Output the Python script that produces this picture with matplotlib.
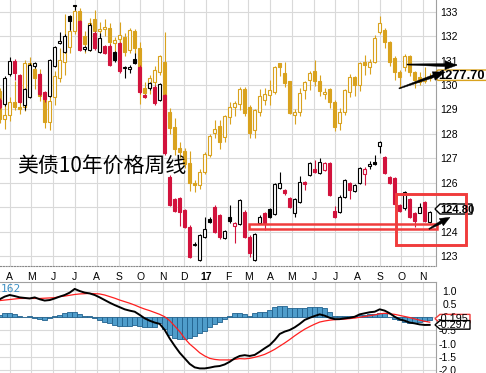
import datetime as dt
import numpy as np
import matplotlib
matplotlib.use('Agg')
import matplotlib.pyplot as plt
import matplotlib.dates as mdates
from matplotlib.patches import Rectangle, Polygon

plt.rcParams['font.family'] = ['Liberation Sans', 'DejaVu Sans']

# ---------------- data ----------------
week_start = dt.date(2016, 3, 18)
n_weeks = 87
dates = [week_start + dt.timedelta(days=7 * i) for i in range(n_weeks)]

# US 10y T-note futures, weekly OHLC
tn_open = [129.39, 129.22, 130.44, 130.98, 130.41, 129.17, 129.52, 130.78, 130.45, 129.70,
           129.56, 130.79, 131.71, 131.36, 132.82, 133.23, 132.63, 131.46, 131.43, 132.14,
           131.36, 131.60, 131.60, 131.36, 131.71, 130.71, 130.65, 131.06, 130.75, 129.59,
           129.86, 129.92, 129.39, 129.59, 126.25, 125.33, 125.37, 124.88, 124.20, 123.45,
           122.84, 123.79, 124.53, 125.02, 124.66, 123.72, 124.58, 124.22, 124.29, 124.81,
           123.79, 122.84, 124.36, 124.77, 124.91, 124.72, 125.80, 125.70, 125.36, 124.77,
           125.22, 126.04, 126.32, 126.55, 126.39, 126.52, 126.79, 124.85, 124.81, 125.43,
           125.99, 125.65, 125.98, 126.34, 126.70, 126.84, 127.51, 127.06, 126.22, 126.18,
           125.09, 124.95, 125.33, 124.75, 124.78, 125.22, 124.40]
tn_high = [129.45, 130.37, 131.13, 131.05, 130.45, 129.86, 130.90, 130.95, 130.50, 129.75,
           131.06, 131.60, 132.16, 132.08, 132.88, 133.29, 132.68, 131.60, 132.52, 132.20,
           132.12, 131.65, 131.68, 131.40, 131.76, 130.76, 130.82, 131.32, 130.80, 129.63,
           130.12, 129.98, 130.10, 129.65, 126.30, 125.38, 125.42, 124.94, 124.25, 123.56,
           123.90, 124.60, 124.58, 125.08, 124.71, 124.06, 125.09, 124.40, 125.34, 124.88,
           123.85, 123.93, 124.66, 124.82, 124.96, 126.00, 126.45, 125.73, 125.40, 125.36,
           126.29, 126.08, 126.85, 126.93, 127.00, 126.83, 126.84, 125.05, 125.48, 126.15,
           126.03, 125.95, 126.64, 126.64, 126.90, 127.13, 127.70, 127.10, 126.26, 126.22,
           125.13, 125.66, 125.38, 124.79, 125.16, 125.26, 124.85]
tn_low = [129.00, 129.15, 130.38, 130.20, 129.25, 128.98, 129.45, 130.70, 129.56, 129.30,
          129.50, 130.72, 131.66, 131.30, 132.25, 133.07, 131.38, 131.40, 131.38, 131.45,
          131.30, 131.25, 130.77, 130.96, 130.50, 130.30, 130.48, 130.87, 129.65, 129.45,
          129.80, 129.20, 129.33, 127.15, 125.03, 124.80, 124.23, 124.14, 122.92, 123.40,
          122.80, 123.74, 124.35, 123.95, 123.70, 123.68, 124.36, 123.52, 124.25, 123.74,
          122.94, 122.80, 124.31, 124.06, 124.54, 124.67, 125.74, 125.50, 124.97, 124.61,
          125.18, 125.70, 126.28, 126.40, 126.34, 126.47, 125.44, 124.57, 124.77, 125.39,
          125.33, 125.60, 125.94, 125.91, 126.55, 126.73, 127.20, 126.36, 125.96, 125.07,
          124.81, 124.90, 124.57, 124.20, 124.74, 124.41, 124.36]
tn_close = [129.10, 130.27, 130.98, 130.50, 129.32, 129.82, 130.82, 130.89, 129.62, 129.43,
            131.01, 131.54, 131.79, 132.01, 132.63, 133.25, 131.43, 131.54, 132.46, 131.50,
            131.91, 131.30, 130.82, 131.02, 130.57, 130.73, 130.75, 130.91, 129.71, 129.52,
            130.07, 129.26, 130.04, 127.22, 125.09, 124.85, 124.80, 124.19, 122.97, 123.50,
            123.84, 124.09, 124.40, 124.00, 123.76, 124.01, 124.42, 124.36, 125.28, 123.79,
            123.11, 123.88, 124.61, 124.36, 124.58, 125.95, 125.98, 125.57, 125.02, 125.32,
            126.04, 125.95, 126.79, 126.45, 126.86, 126.79, 125.49, 124.61, 125.43, 126.11,
            125.70, 125.91, 126.59, 126.55, 126.75, 126.77, 127.65, 126.40, 126.00, 125.11,
            124.85, 125.61, 124.61, 124.45, 125.02, 124.45, 124.80]

# Gold overlay (USD), weekly OHLC
gold_open = [1258, 1221, 1226, 1244, 1237, 1237, 1296, 1288, 1274, 1250,
             1216, 1250, 1276, 1298, 1318, 1340, 1366, 1332, 1322, 1356,
             1339, 1342, 1343, 1323, 1328, 1331, 1314, 1340, 1317, 1262,
             1262, 1270, 1284, 1297, 1230, 1210, 1182, 1177, 1161, 1134,
             1131, 1149, 1172, 1202, 1211, 1196, 1223, 1237, 1241, 1261,
             1237, 1206, 1230, 1246, 1253, 1257, 1296, 1283, 1272, 1226,
             1230, 1260, 1273, 1286, 1272, 1254, 1261, 1244, 1215, 1230,
             1257, 1277, 1266, 1298, 1291, 1298, 1338, 1341, 1325, 1303,
             1284, 1291, 1306, 1284, 1277, 1272, 1276]
gold_high = [1262, 1244, 1250, 1272, 1256, 1300, 1304, 1292, 1288, 1257,
             1252, 1285, 1316, 1362, 1350, 1375, 1370, 1340, 1357, 1368,
             1352, 1356, 1350, 1331, 1352, 1337, 1343, 1342, 1325, 1270,
             1280, 1292, 1307, 1338, 1236, 1222, 1190, 1181, 1177, 1138,
             1153, 1176, 1200, 1219, 1219, 1226, 1244, 1245, 1264, 1264,
             1240, 1234, 1261, 1262, 1273, 1292, 1296, 1297, 1272, 1234,
             1262, 1272, 1285, 1300, 1280, 1262, 1263, 1246, 1235, 1261,
             1281, 1279, 1298, 1307, 1302, 1334, 1360, 1344, 1326, 1306,
             1287, 1308, 1307, 1286, 1284, 1291, 1283]
gold_low = [1215, 1207, 1218, 1233, 1227, 1232, 1275, 1261, 1245, 1208,
            1206, 1240, 1270, 1280, 1310, 1335, 1321, 1310, 1312, 1334,
            1331, 1333, 1317, 1302, 1323, 1306, 1310, 1308, 1241, 1249,
            1254, 1264, 1280, 1212, 1200, 1172, 1168, 1155, 1124, 1122,
            1126, 1146, 1169, 1195, 1180, 1190, 1214, 1225, 1233, 1224,
            1195, 1195, 1225, 1240, 1240, 1255, 1279, 1264, 1227, 1214,
            1225, 1248, 1260, 1265, 1252, 1247, 1236, 1205, 1206, 1226,
            1250, 1252, 1258, 1280, 1282, 1296, 1336, 1316, 1292, 1273,
            1262, 1285, 1278, 1262, 1266, 1269, 1272]
gold_close = [1220, 1226, 1243, 1237, 1234, 1296, 1291, 1276, 1252, 1216,
              1245, 1278, 1300, 1318, 1340, 1366, 1328, 1322, 1350, 1340,
              1342, 1345, 1325, 1327, 1334, 1311, 1341, 1316, 1258, 1256,
              1276, 1287, 1305, 1225, 1209, 1180, 1176, 1160, 1134, 1131,
              1149, 1173, 1197, 1207, 1190, 1225, 1237, 1242, 1261, 1229,
              1202, 1233, 1252, 1254, 1260, 1291, 1291, 1269, 1229, 1230,
              1256, 1271, 1283, 1272, 1258, 1257, 1244, 1210, 1230, 1260,
              1277, 1266, 1296, 1293, 1298, 1330, 1350, 1325, 1298, 1284,
              1277, 1306, 1284, 1273, 1271, 1276, 1277.7]

# MACD(12,26,9) of the T-note series
macd_line = [0.67, 0.77, 0.83, 0.79, 0.74, 0.72, 0.70, 0.74, 0.67, 0.62,
             0.64, 0.70, 0.77, 0.83, 0.92, 1.06, 0.98, 0.92, 0.89, 0.83,
             0.74, 0.64, 0.54, 0.45, 0.37, 0.29, 0.24, 0.20, 0.08, -0.05,
             -0.14, -0.21, -0.26, -0.49, -0.81, -1.09, -1.35, -1.56, -1.77, -1.90,
             -1.94, -1.94, -1.91, -1.87, -1.85, -1.79, -1.69, -1.56, -1.47, -1.44,
             -1.47, -1.43, -1.31, -1.18, -1.06, -0.87, -0.64, -0.55, -0.49, -0.39,
             -0.26, -0.11, -0.03, 0.04, 0.10, 0.05, -0.03, -0.08, -0.08, -0.05,
             -0.03, 0.01, 0.10, 0.14, 0.18, 0.20, 0.29, 0.24, 0.14, 0.01,
             -0.09, -0.14, -0.21, -0.24, -0.28, -0.30, -0.297]
signal_line = [0.62, 0.64, 0.66, 0.68, 0.70, 0.70, 0.70, 0.70, 0.70, 0.71,
               0.72, 0.73, 0.77, 0.79, 0.82, 0.85, 0.87, 0.88, 0.89, 0.88,
               0.87, 0.83, 0.77, 0.71, 0.64, 0.58, 0.52, 0.45, 0.37, 0.30,
               0.24, 0.17, 0.10, 0.01, -0.14, -0.34, -0.55, -0.81, -1.02, -1.18,
               -1.35, -1.47, -1.56, -1.60, -1.62, -1.62, -1.62, -1.60, -1.57, -1.58,
               -1.56, -1.52, -1.47, -1.41, -1.32, -1.22, -1.10, -0.98, -0.85, -0.71,
               -0.58, -0.46, -0.36, -0.27, -0.19, -0.15, -0.12, -0.10, -0.09, -0.08,
               -0.06, -0.04, -0.01, 0.02, 0.05, 0.08, 0.12, 0.14, 0.12, 0.10,
               0.06, 0.02, -0.02, -0.07, -0.12, -0.16, -0.195]
macd_hist = [0.08, 0.14, 0.16, 0.10, 0.02, -0.01, 0.02, -0.02, -0.09, -0.11,
             -0.05, 0.02, 0.08, 0.14, 0.19, 0.20, 0.10, 0.04, 0.02, -0.05,
             -0.11, -0.18, -0.24, -0.30, -0.34, -0.34, -0.34, -0.30, -0.34, -0.36,
             -0.39, -0.39, -0.24, -0.47, -0.68, -0.78, -0.83, -0.83, -0.81, -0.72,
             -0.62, -0.52, -0.39, -0.28, -0.18, -0.09, 0.04, 0.14, 0.14, 0.10,
             0.05, 0.14, 0.20, 0.20, 0.26, 0.37, 0.42, 0.42, 0.33, 0.33,
             0.33, 0.35, 0.37, 0.37, 0.37, 0.33, 0.20, 0.04, 0.04, 0.04,
             0.04, 0.04, 0.08, 0.08, 0.10, 0.10, 0.14, 0.14, 0.01, -0.08,
             -0.11, -0.18, -0.21, -0.21, -0.18, -0.14, -0.11]

month_starts = [dt.date(2016, m, 1) for m in range(4, 13)] + [dt.date(2017, m, 1) for m in range(1, 12)]
month_labels = ['A', 'M', 'J', 'J', 'A', 'S', 'O', 'N', 'D', '17',
                'F', 'M', 'A', 'M', 'J', 'J', 'A', 'S', 'O', 'N']
price_ticks = list(range(123, 134))
macd_ticks = [1.0, 0.5, 0.0, -0.5, -1.0, -1.5, -2.0]
title_text = '美债10年价格周线'
tn_last_label = '124.80'
gold_last_label = '1277.70'
macd_last_label = '-0.297'
signal_last_label = '-0.195'
macd_corner_label = '162'

# ---------------- style ----------------
W, H = 486, 373
RED = '#d2123c'
GOLD = '#d9a21e'
GRID = '#d9d9d9'
BORDER = '#a0a0a0'
ANN_RED = '#f03c3c'

fig = plt.figure(figsize=(W / 100, H / 100), dpi=100)
fig.patch.set_facecolor('white')

xnum = mdates.date2num(dates)
x_left = xnum[0] + 0.42
x_right = x_left + 436 * 1.4
plot_w = 436 / W
main_rect = [0, 1 - 266 / H, plot_w, 266 / H]
macd_rect = [0, 0, plot_w, (H - 282) / H]
tn_ylim = (122.59, 133.48)
gold_ylim = (1022.15, 1381.25)
macd_ylim = (-2.113, 1.321)

# background / grid axes
ax_main = fig.add_axes(main_rect, zorder=1)
ax_main.set_xlim(x_left, x_right)
ax_main.set_ylim(*tn_ylim)
ax_main.yaxis.tick_right()
ax_main.set_yticks(price_ticks)
ax_main.set_yticklabels([str(t) for t in price_ticks])
ax_main.tick_params(axis='y', length=0, pad=3, labelsize=7.5)
ax_main.set_xticks(mdates.date2num(month_starts))
ax_main.set_xticklabels(month_labels)
ax_main.tick_params(axis='x', length=0, pad=4, labelsize=7.5)
for lab in ax_main.get_xticklabels():
    if lab.get_text() == '17':
        lab.set_fontweight('bold')
ax_main.grid(True, color=GRID, lw=0.8)
ax_main.set_axisbelow(True)
for s in ('left', 'top'):
    ax_main.spines[s].set_visible(False)
ax_main.spines['right'].set_color(BORDER)
ax_main.spines['bottom'].set_color('#888888')
ax_main.spines['bottom'].set_linestyle((0, (1, 1.5)))

def draw_candles(ax, x, o, h, l, c, edge, face, width, minh, lw):
    o = np.asarray(o, float); c = np.asarray(c, float)
    ax.vlines(x, l, h, colors=edge, linewidth=lw, zorder=2)
    bottom = np.minimum(o, c)
    height = np.maximum(np.abs(c - o), minh)
    ax.bar(x, height, width=width, bottom=bottom, color=face, edgecolor=edge,
           linewidth=lw, zorder=3, align='center')

# gold layer
ax_gold = fig.add_axes(main_rect, zorder=2)
ax_gold.set_xlim(x_left, x_right)
ax_gold.set_ylim(*gold_ylim)
ax_gold.set_axis_off()
ax_gold.patch.set_visible(False)
g_face = [GOLD if c < o else 'white' for o, c in zip(gold_open, gold_close)]
draw_candles(ax_gold, xnum, gold_open, gold_high, gold_low, gold_close,
             GOLD, g_face, 4.2, 1.4, 0.8)

# T-note layer
ax_t = fig.add_axes(main_rect, zorder=3)
ax_t.set_xlim(x_left, x_right)
ax_t.set_ylim(*tn_ylim)
ax_t.set_axis_off()
ax_t.patch.set_visible(False)
prev_close = [tn_open[0]] + tn_close[:-1]
t_edge = [RED if c < p else 'black' for c, p in zip(tn_close, prev_close)]
t_face = [e if c < o else 'white' for e, c, o in zip(t_edge, tn_close, tn_open)]
draw_candles(ax_t, xnum, tn_open, tn_high, tn_low, tn_close,
             t_edge, t_face, 4.2, 0.04, 0.8)

# MACD panel
ax_m = fig.add_axes(macd_rect, zorder=1)
ax_m.set_xlim(x_left, x_right)
ax_m.set_ylim(*macd_ylim)
ax_m.set_xticks(mdates.date2num(month_starts))
ax_m.set_xticklabels([])
ax_m.tick_params(axis='x', length=0)
ax_m.yaxis.tick_right()
ax_m.set_yticks(macd_ticks)
ax_m.set_yticklabels(['%.1f' % t for t in macd_ticks], ha='right')
ax_m.tick_params(axis='y', length=0, pad=15, labelsize=7.5)
ax_m.grid(True, color=GRID, lw=0.8)
ax_m.set_axisbelow(True)
for s in ('left', 'bottom'):
    ax_m.spines[s].set_visible(False)
for s in ('right', 'top'):
    ax_m.spines[s].set_color(BORDER)
ax_m.bar(xnum, macd_hist, width=7.0, color='#4f9dcb', edgecolor='#22628e',
         linewidth=0.6, zorder=2)
ax_m.plot(xnum, signal_line, color='#ff1f1f', lw=0.9, zorder=3)
ax_m.plot(xnum, macd_line, color='black', lw=1.4, zorder=4)

# ---------------- annotation overlay (pixel coordinates) ----------------
ov = fig.add_axes([0, 0, 1, 1], zorder=10)
ov.set_xlim(0, W)
ov.set_ylim(H, 0)
ov.set_axis_off()
ov.patch.set_visible(False)

def py_of(ax, value):
    return H - ax.transData.transform((x_right, value))[1]

def tag(yc, text, edge, fs, weight, tip, half_h, width, text_dx):
    pts = [(tip, yc), (tip + 5, yc - half_h), (tip + width, yc - half_h),
           (tip + width, yc + half_h), (tip + 5, yc + half_h)]
    ov.add_patch(Polygon(pts, closed=True, facecolor='white', edgecolor=edge, lw=1.0))
    ov.text(tip + text_dx, yc + 0.5, text, fontsize=fs, fontweight=weight,
            ha='left', va='center', color='black')

tag(py_of(ax_gold, gold_close[-1]) - 1.5, gold_last_label, GOLD, 9.3, 'bold', 433, 5.2, 60, 5.5)
tag(py_of(ax_t, tn_close[-1]) - 3, tn_last_label, 'black', 8.0, 'bold', 435, 5.0, 37, 5.0)
tag(py_of(ax_m, signal_line[-1]) - 3.5, signal_last_label, ANN_RED, 7.8, 'normal', 435, 4.3, 35, 3.0)
tag(py_of(ax_m, macd_line[-1]), macd_last_label, 'black', 7.8, 'normal', 435, 4.3, 35, 3.0)

ov.text(17, 166, title_text, fontsize=15, family=['Noto Sans CJK SC', 'DejaVu Sans'],
        ha='left', va='center', color='black')
ov.text(0.5, 288.5, macd_corner_label, fontsize=8, family='DejaVu Sans Mono',
        ha='left', va='center', color='#3d90c4')

# red highlight boxes
ov.add_patch(Rectangle((249, 224), 188, 4.5, fill=False, edgecolor=ANN_RED, lw=1.8))
ov.add_patch(Rectangle((395.5, 193.5), 70, 51, fill=False, edgecolor=ANN_RED, lw=2.1))

# black hand-drawn arrows: tapered shaft + triangular head
def arrow(tail, tip, head_len=12, head_hw=4.5, hw_tail=0.5, hw_base=1.5):
    t = np.array(tail, float); p = np.array(tip, float)
    d = p - t
    L = np.hypot(*d)
    u = d / L
    nrm = np.array([-u[1], u[0]])
    base = p - u * head_len
    pts = [t + nrm * hw_tail, base + nrm * hw_base, base + nrm * head_hw, p,
           base - nrm * head_hw, base - nrm * hw_base, t - nrm * hw_tail]
    ov.add_patch(Polygon(pts, closed=True, facecolor='black', edgecolor='black', lw=0.3))

arrow((407, 64.5), (457, 65.3))
arrow((399, 88.5), (445, 72.0))
arrow((429, 229), (450, 217.3), head_len=10, head_hw=4.2)

fig.savefig('out.png', dpi=100)
